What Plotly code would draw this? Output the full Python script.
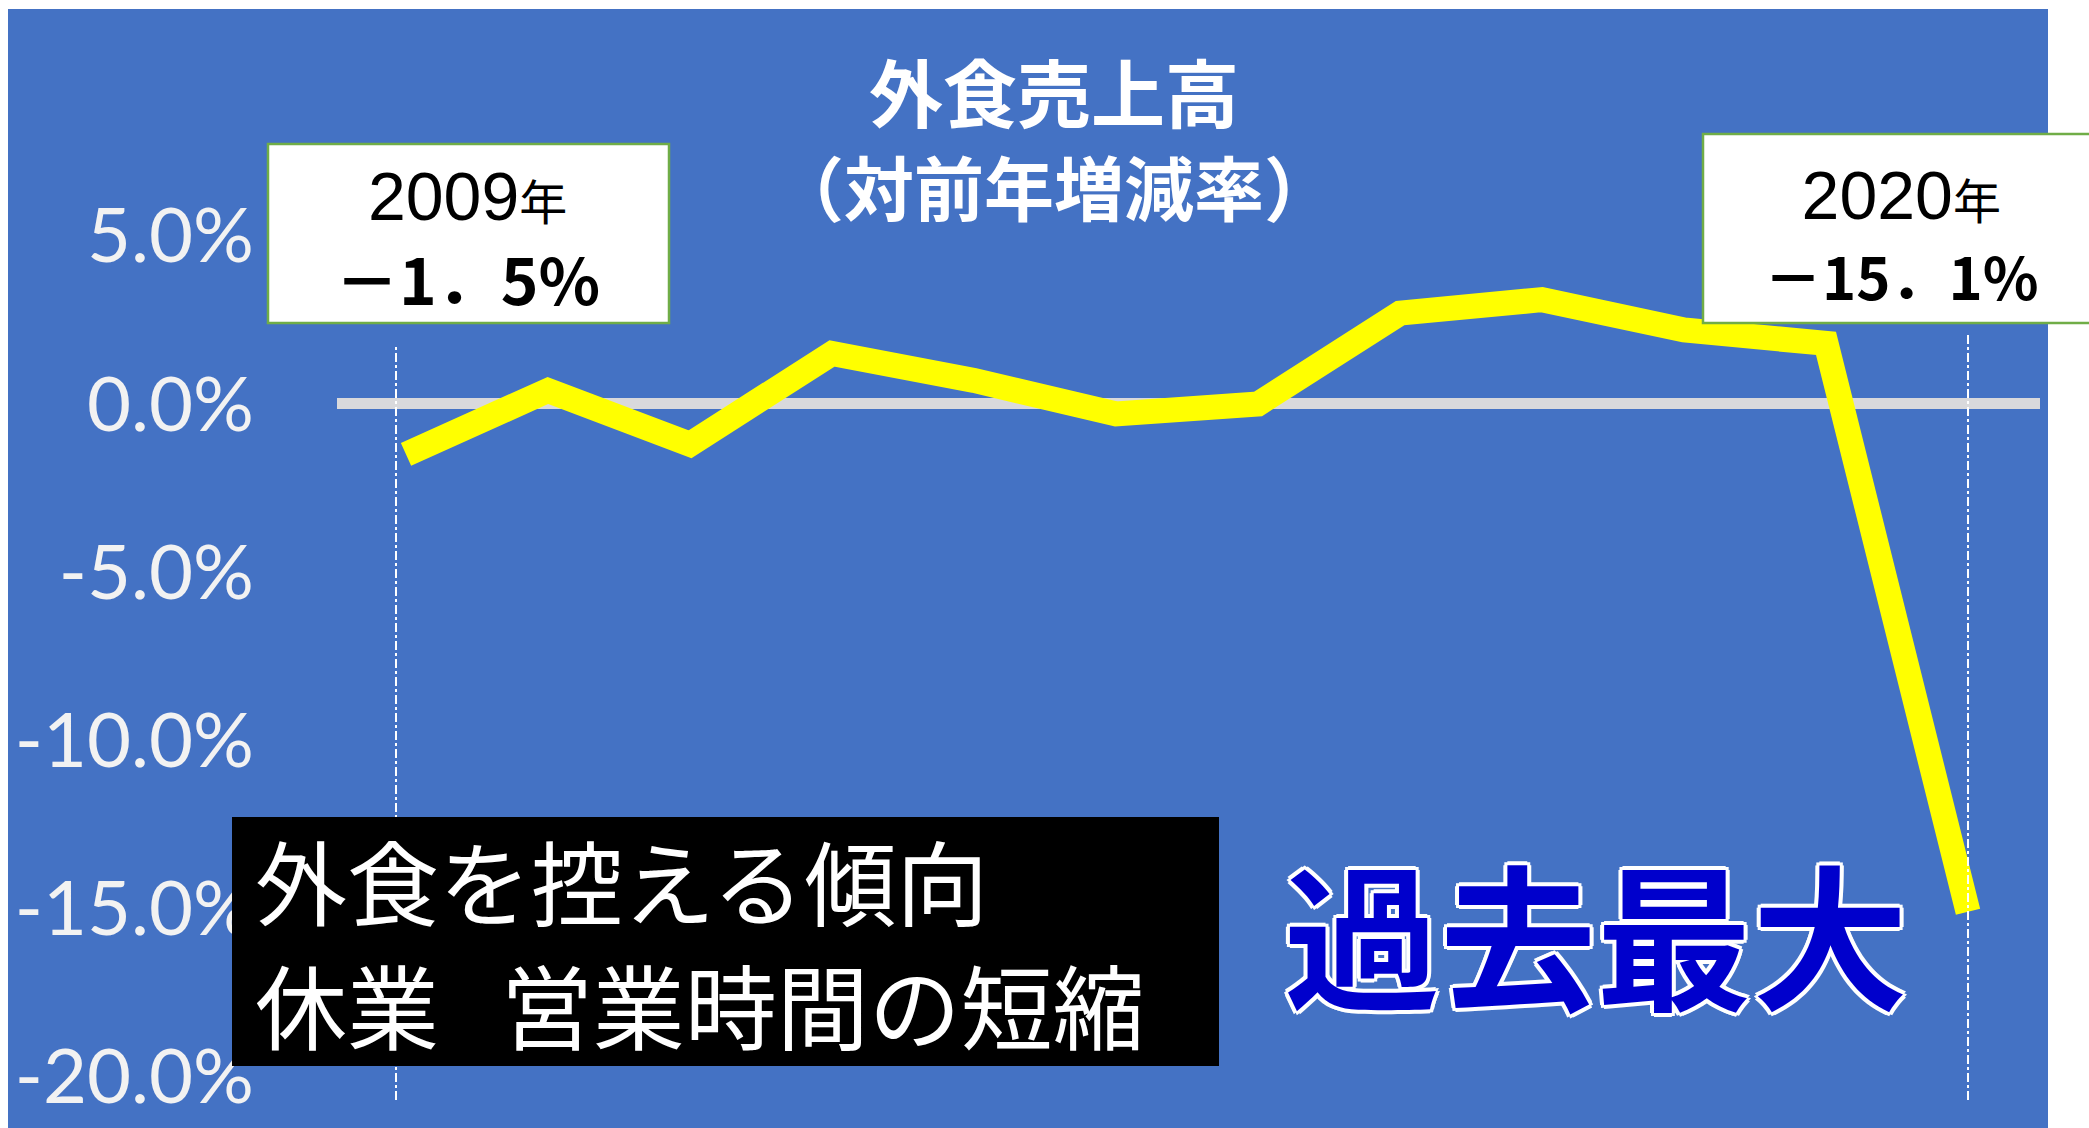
import plotly.graph_objects as go

# ---- data ----
years = [2009, 2010, 2011, 2012, 2013, 2014, 2015, 2016, 2017, 2018, 2019, 2020]
growth = [-1.5, 0.4, -1.2, 1.5, 0.7, -0.3, 0.0, 2.7, 3.1, 2.2, 1.8, -15.1]
tick_vals = [5, 0, -5, -10, -15, -20]
tick_text = ["5.0%", "0.0%", "-5.0%", "-10.0%", "-15.0%", "-20.0%"]

title_lines = ["外食売上高", "（対前年増減率）"]
box_2009 = ("2009", "年", "－1．5%")
box_2020 = ("2020", "年", "－15．1%")
note_lines = ["外食を控える傾向", "休業\u00a0\u00a0\u00a0営業時間の短縮"]
big_label = "過去最大"

# ---- layout geometry ----
W, H = 2089, 1128
ML, MR = 337, 49
PW = W - ML - MR


def px(x):
    return (x - ML) / PW


def py(y):
    return 1 - y / H


BLUE = "#4472C4"
CJK = "Noto Sans CJK JP"
LAT = "Liberation Sans"

fig = go.Figure()
fig.add_trace(go.Scatter(
    x=years, y=growth, mode="lines",
    line=dict(color="#FFFF00", width=25),
    cliponaxis=False, hoverinfo="skip", showlegend=False,
))

shapes = [
    # blue background panel
    dict(type="rect", xref="paper", yref="paper", x0=px(8), x1=px(2048),
         y0=py(1128), y1=py(9), fillcolor=BLUE, line=dict(width=0), layer="below"),
    # dashed drop lines at first / last year
    dict(type="line", xref="paper", yref="paper", x0=px(396), x1=px(396),
         y0=py(1100), y1=py(345), line=dict(color="white", width=2, dash="dashdot")),
    dict(type="line", xref="x", yref="paper", x0=years[-1], x1=years[-1],
         y0=py(1100), y1=py(335), line=dict(color="white", width=2, dash="dashdot")),
    # callout boxes
    dict(type="rect", xref="paper", yref="paper", x0=px(268), x1=px(669),
         y0=py(323), y1=py(144), fillcolor="white", line=dict(color="#70AD47", width=2.5)),
    dict(type="rect", xref="paper", yref="paper", x0=px(1703), x1=px(2110),
         y0=py(323), y1=py(134), fillcolor="white", line=dict(color="#70AD47", width=2.5)),
    # black note box
    dict(type="rect", xref="paper", yref="paper", x0=px(232), x1=px(1219),
         y0=py(1066), y1=py(817), fillcolor="black", line=dict(width=0)),
]


def span(txt, size, family=None, bold=False):
    st = f"font-size:{size}px"
    if family:
        st += f";font-family:{family}"
    if bold:
        st += ";font-weight:bold"
    return f"<span style='{st}'>{txt}</span>"


ann = []
# title (two lines, one text block)
ann.append(dict(x=px(1054), y=py(136),
                text=span(title_lines[0], 74) + "<br>" + span(title_lines[1], 70),
                font=dict(family=CJK, size=72, color="white", weight=700)))
# 2009 box
ann.append(dict(x=px(467), y=py(241),
                text=span(box_2009[0], 68) + span(box_2009[1], 48, CJK) + "<br>"
                + span(box_2009[2], 64, CJK, True),
                font=dict(family=LAT + ", " + CJK, size=65.4, color="black")))
# 2020 box
ann.append(dict(x=px(1901), y=py(237),
                text=span(box_2020[0], 68) + span(box_2020[1], 48, CJK) + "<br>"
                + span(box_2020[2], 58, CJK, True),
                font=dict(family=LAT + ", " + CJK, size=62.3, color="black")))
# note lines
ann.append(dict(x=px(253), y=py(940), xanchor="left", align="left",
                text=span(note_lines[0], 92) + "<br>" + span(note_lines[1], 92),
                font=dict(family=CJK, size=95, color="white")))
# big label with white outline
outline = ", ".join(f"{dx}px {dy}px 0 #ffffff" for dx, dy in
                    [(4, 0), (-4, 0), (0, 4), (0, -4), (3, 3), (-3, -3), (3, -3), (-3, 3)])
ann.append(dict(x=px(1596), y=py(930), text=big_label,
                font=dict(family=CJK, size=156, color="#0000CC", weight=700, shadow=outline)))

for a in ann:
    a.setdefault("xanchor", "center")
    a.update(xref="paper", yref="paper", yanchor="middle", showarrow=False)

fig.update_layout(
    width=W, height=H,
    margin=dict(l=ML, r=MR, t=0, b=0),
    paper_bgcolor="white", plot_bgcolor="rgba(0,0,0,0)",
    shapes=shapes, annotations=ann,
    xaxis=dict(range=[2008.514, 2020.507], visible=False, fixedrange=True),
    yaxis=dict(range=[-21.53, 12.01], showgrid=False, showline=False,
               zeroline=True, zerolinecolor="#D9D9DC", zerolinewidth=11,
               tickvals=tick_vals, ticktext=tick_text, ticks="",
               ticklabelstandoff=82,
               tickfont=dict(family="Lato", size=76, color="#F2F2F2"),
               fixedrange=True),
)

fig.write_html("out.html", config={"displayModeBar": False})
